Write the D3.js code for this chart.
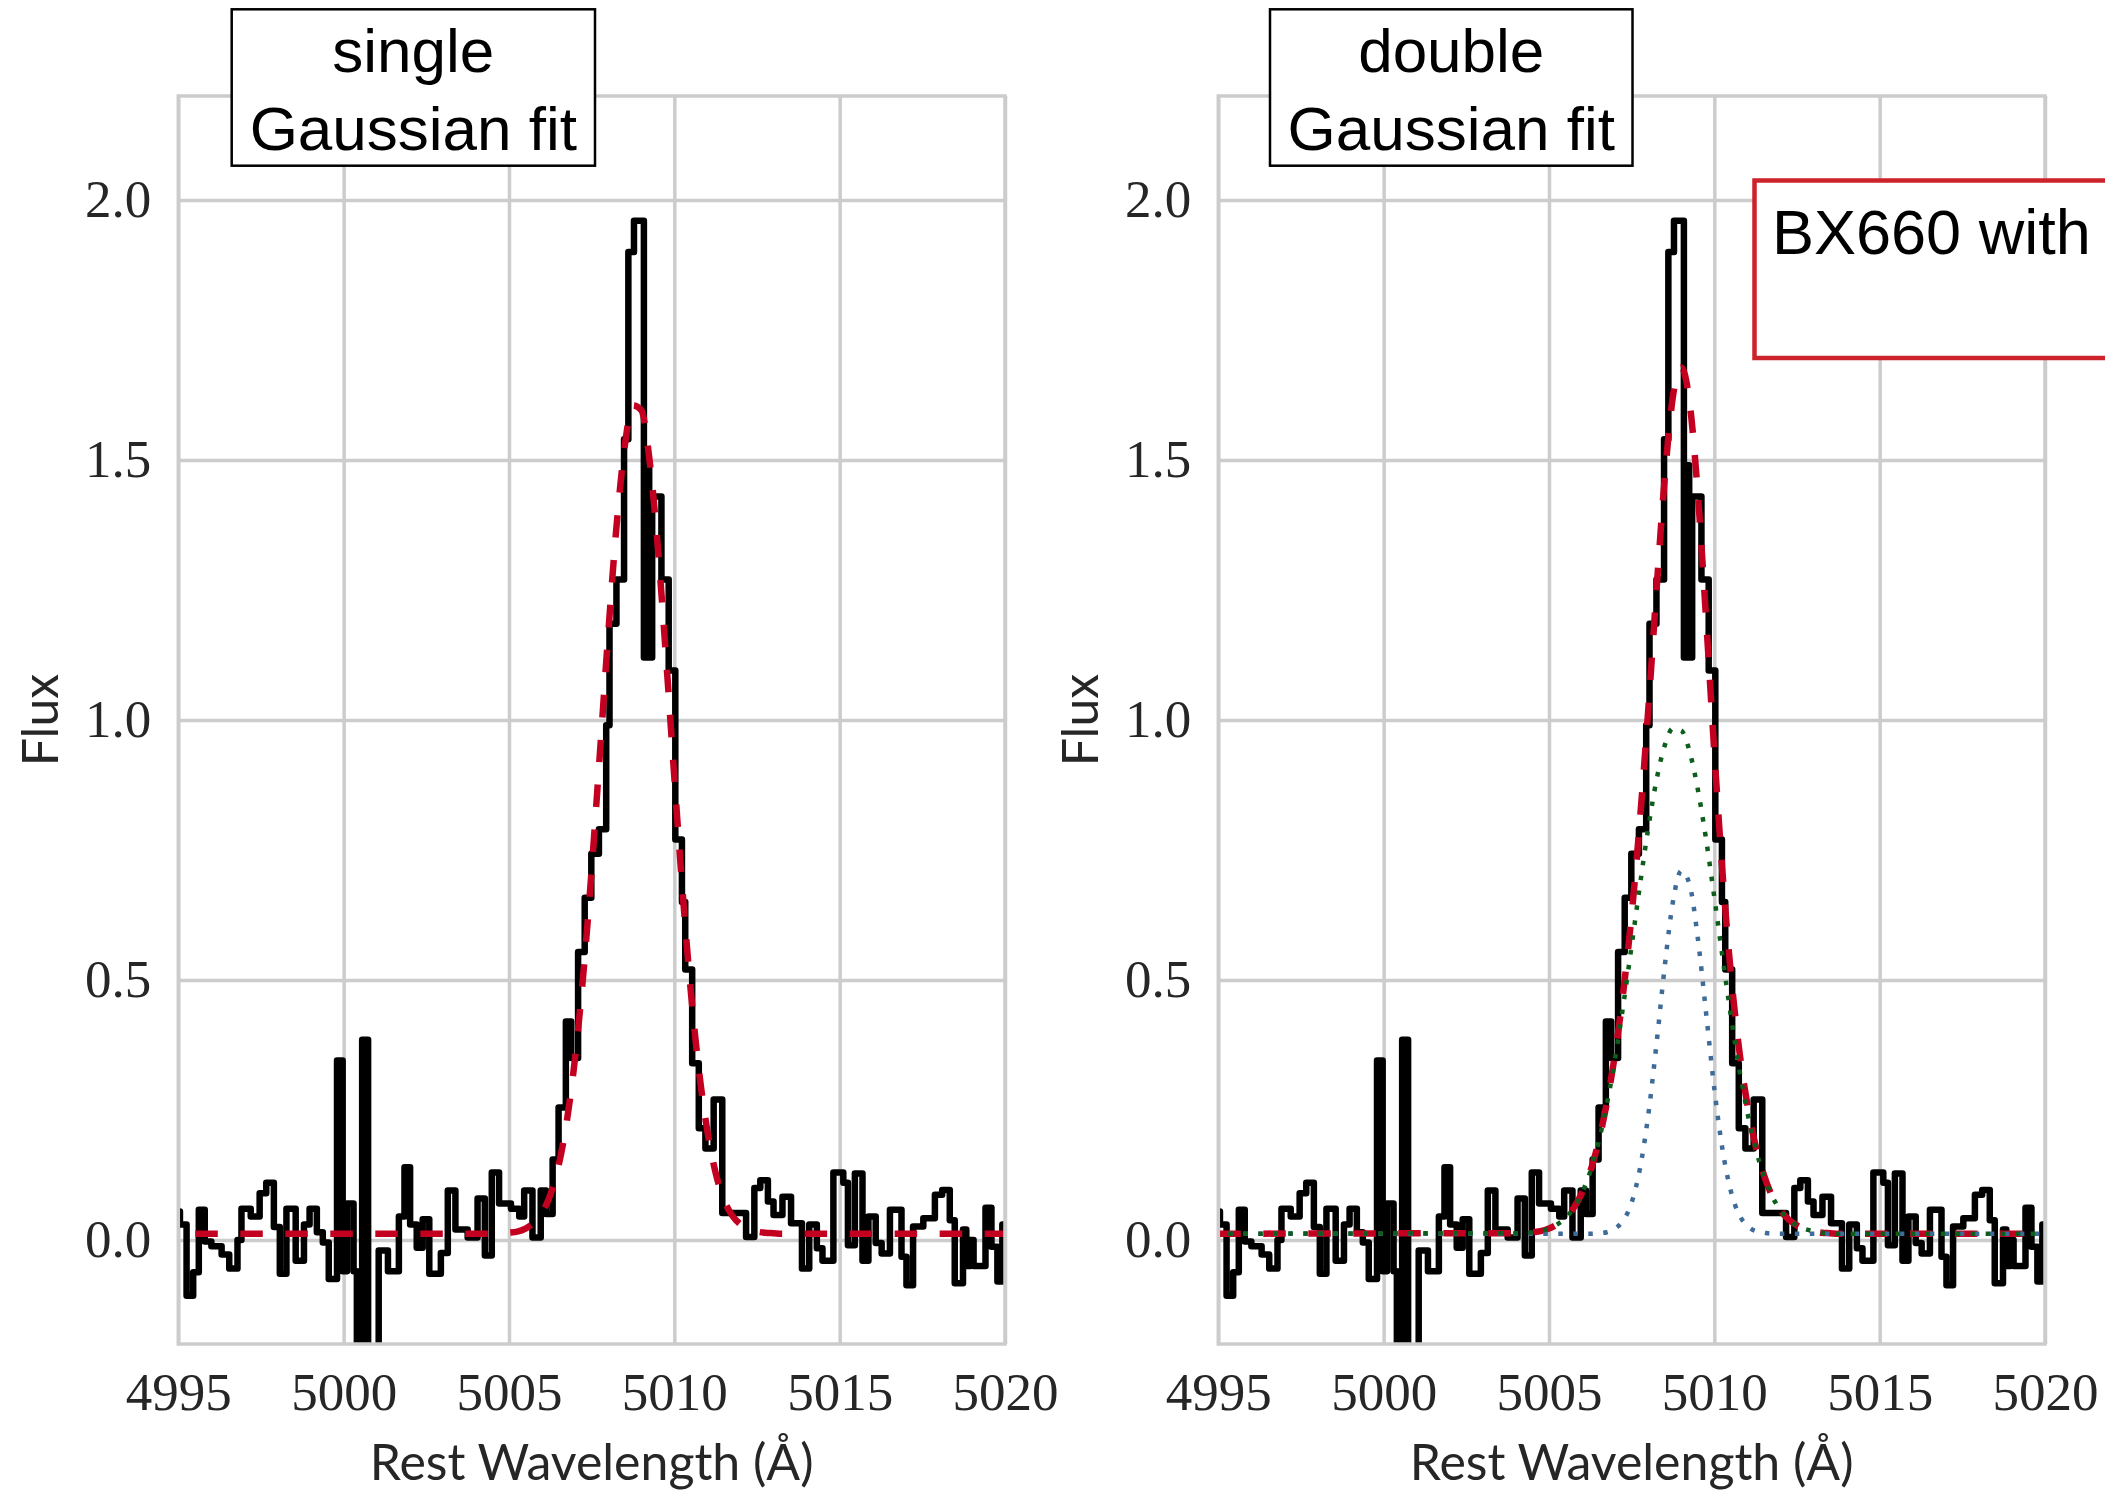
<!DOCTYPE html>
<html>
<head>
<meta charset="utf-8">
<script src="https://cdn.jsdelivr.net/npm/d3@7"></script>
<style>
  html, body { margin: 0; padding: 0; background: #ffffff; }
  svg { display: block; }
</style>
</head>
<body>
<svg id="fig" width="2105" height="1494"></svg>
<script>
// ---------------------------------------------------------------
// Observed [OIII] 5007 profile: left edge of each pixel (Å) and flux
// ---------------------------------------------------------------
const wave = [
  4994.90, 4995.05, 4995.25, 4995.45, 4995.62, 4995.80, 4996.00, 4996.31, 4996.54, 4996.79,
  4996.91, 4997.19, 4997.46, 4997.66, 4997.89, 4998.07, 4998.27, 4998.55, 4998.80, 4998.97,
  4999.19, 4999.37, 4999.55, 4999.80, 4999.97, 5000.10, 5000.30, 5000.40, 5000.56, 5000.74,
  5001.06, 5001.34, 5001.67, 5001.84, 5002.01, 5002.21, 5002.39, 5002.59, 5002.94, 5003.15,
  5003.38, 5003.75, 5004.05, 5004.27, 5004.48, 5004.70, 5005.06, 5005.31, 5005.46, 5005.71,
  5005.96, 5006.12, 5006.32, 5006.50, 5006.72, 5006.88, 5007.09, 5007.29, 5007.49, 5007.72,
  5007.94, 5008.04, 5008.25, 5008.48, 5008.61, 5008.78, 5009.08, 5009.16, 5009.24, 5009.33,
  5009.61, 5009.83, 5010.03, 5010.23, 5010.33, 5010.54, 5010.74, 5010.94, 5011.19, 5011.45,
  5012.17, 5012.42, 5012.60, 5012.83, 5013.00, 5013.27, 5013.53, 5013.86, 5014.08, 5014.31,
  5014.48, 5014.81, 5015.11, 5015.25, 5015.46, 5015.69, 5015.87, 5016.09, 5016.27, 5016.52,
  5016.87, 5017.02, 5017.22, 5017.53, 5017.88, 5018.10, 5018.33, 5018.48, 5018.73, 5018.83,
  5018.95, 5019.05, 5019.41, 5019.59, 5019.77, 5019.92
];
const flux = [
  0.055, 0.030, -0.107, -0.062, 0.058, -0.003, -0.012, -0.028, -0.055, 0.000,
  0.060, 0.045, 0.090, 0.110, 0.025, -0.065, 0.060, -0.040, 0.030, 0.060,
  0.015, -0.005, -0.075, 0.345, -0.060, 0.070, -0.060, -0.280, 0.385, -0.280,
  -0.020, -0.060, 0.045, 0.140, 0.030, -0.015, 0.040, -0.065, -0.025, 0.095,
  0.020, 0.005, 0.080, -0.030, 0.130, 0.070, 0.060, 0.045, 0.095, 0.005,
  0.095, 0.050, 0.155, 0.255, 0.420, 0.350, 0.554, 0.658, 0.743, 0.790,
  0.990, 1.185, 1.270, 1.540, 1.900, 1.960, 1.120, 1.490, 1.120, 1.430,
  1.270, 1.095, 0.770, 0.650, 0.520, 0.340, 0.215, 0.176, 0.270, 0.052,
  0.006, 0.100, 0.115, 0.074, 0.048, 0.083, 0.032, -0.055, 0.030, -0.016,
  -0.040, 0.130, 0.110, -0.010, 0.128, -0.040, 0.045, -0.006, -0.026, 0.058,
  -0.032, -0.087, 0.026, 0.042, 0.087, 0.096, 0.038, -0.083, 0.020, -0.050,
  0.000, -0.050, 0.062, -0.013, -0.080, 0.030
];
const specEnd = 5020.10;

// ---------------------------------------------------------------
// Fitted models, sampled on a common wavelength grid (Å)
// ---------------------------------------------------------------
const fitWave = [
  4995.00,
  5004.00, 5004.25, 5004.50, 5004.75, 5005.00, 5005.25, 5005.50, 5005.75, 5006.00, 5006.25,
  5006.50, 5006.75, 5007.00, 5007.25, 5007.50, 5007.75, 5008.00, 5008.25, 5008.50, 5008.75,
  5009.00, 5009.25, 5009.50, 5009.75, 5010.00, 5010.25, 5010.50, 5010.75, 5011.00, 5011.25,
  5011.50, 5011.75, 5012.00, 5012.25, 5012.50, 5012.75, 5013.00, 5013.25, 5013.50, 5013.75,
  5014.00,
  5020.00
];
// single Gaussian + continuum
const singleFit = [
  0.012,
  0.012, 0.012, 0.012, 0.013, 0.014, 0.016, 0.022, 0.033, 0.052, 0.087,
  0.143, 0.229, 0.351, 0.513, 0.712, 0.936, 1.165, 1.371, 1.526, 1.605,
  1.596, 1.500, 1.333, 1.120, 0.890, 0.670, 0.477, 0.323, 0.209, 0.129,
  0.078, 0.047, 0.030, 0.020, 0.016, 0.014, 0.013, 0.012, 0.012, 0.012,
  0.012,
  0.012
];
// double Gaussian: total model
const doubleFit = [
  0.012,
  0.013, 0.013, 0.015, 0.017, 0.022, 0.030, 0.042, 0.062, 0.091, 0.132,
  0.189, 0.264, 0.359, 0.479, 0.626, 0.807, 1.018, 1.248, 1.465, 1.623,
  1.678, 1.612, 1.436, 1.196, 0.938, 0.704, 0.513, 0.367, 0.260, 0.181,
  0.125, 0.084, 0.057, 0.039, 0.028, 0.021, 0.017, 0.014, 0.013, 0.012,
  0.012,
  0.012
];
// double Gaussian: broad component
const broadComp = [
  0.012,
  0.013, 0.013, 0.015, 0.017, 0.022, 0.030, 0.042, 0.062, 0.091, 0.132,
  0.188, 0.261, 0.349, 0.453, 0.566, 0.682, 0.791, 0.884, 0.951, 0.984,
  0.980, 0.940, 0.867, 0.771, 0.659, 0.543, 0.431, 0.330, 0.245, 0.176,
  0.123, 0.084, 0.057, 0.039, 0.028, 0.021, 0.017, 0.014, 0.013, 0.012,
  0.012,
  0.012
];
// double Gaussian: narrow component
const narrowComp = [
  0.012,
  0.012, 0.012, 0.012, 0.012, 0.012, 0.012, 0.012, 0.012, 0.012, 0.012,
  0.013, 0.015, 0.022, 0.038, 0.072, 0.137, 0.239, 0.376, 0.526, 0.651,
  0.710, 0.684, 0.581, 0.437, 0.291, 0.173, 0.094, 0.049, 0.027, 0.017,
  0.014, 0.012, 0.012, 0.012, 0.012, 0.012, 0.012, 0.012, 0.012, 0.012,
  0.012,
  0.012
];

// ---------------------------------------------------------------
// Axis ticks and labels
// ---------------------------------------------------------------
const xDomain = [4995, 5020];
const yDomain = [-0.2, 2.2];
const xTicks = [4995, 5000, 5005, 5010, 5015, 5020];
const yTicks = [0.0, 0.5, 1.0, 1.5, 2.0];
const xLabel = "Rest Wavelength (Å)";
const yLabel = "Flux";
const panelTitles = [["single", "Gaussian fit"], ["double", "Gaussian fit"]];
const legendText = "BX660 with";

// ---------------------------------------------------------------
// Layout and styles
// ---------------------------------------------------------------
const plotTop = 96, plotBottom = 1344;
const panels = [
  { left: 178.3, right: 1005.0, box: [231.7, 9.3, 363.3, 156.4], kind: "single" },
  { left: 1218.3, right: 2045.0, box: [1270.0, 9.3, 362.5, 156.4], kind: "double" }
];
const GRID = "#cccccc";
const TEXT = "#262626";
const RED = "#c40021";
const GREEN = "#0d5e1b";
const BLUE = "#3f6b99";

const svg = d3.select("#fig");
svg.append("rect").attr("width", 2105).attr("height", 1494).attr("fill", "#ffffff");

const y = d3.scaleLinear().domain(yDomain).range([plotBottom, plotTop]);

panels.forEach((p, i) => {
  const x = d3.scaleLinear().domain(xDomain).range([p.left, p.right]);
  const w = p.right - p.left, h = plotBottom - plotTop;
  const g = svg.append("g").attr("class", "panel-" + p.kind);

  const clipId = "clip-" + i;
  svg.append("defs").append("clipPath").attr("id", clipId)
    .append("rect").attr("x", p.left).attr("y", plotTop).attr("width", w).attr("height", h);

  // grid + x tick labels
  const gx = g.append("g").attr("transform", `translate(0,${plotBottom})`)
    .call(d3.axisBottom(x).tickValues(xTicks).tickSize(-h).tickPadding(28)
      .tickFormat(d3.format("d")));
  gx.select(".domain").remove();
  gx.selectAll(".tick line").attr("stroke", GRID).attr("stroke-width", 3.5);
  gx.selectAll(".tick text").attr("font-family", "'Liberation Serif', 'DejaVu Serif', serif")
    .attr("font-size", 53).attr("fill", TEXT);

  // grid + y tick labels
  const gy = g.append("g").attr("transform", `translate(${p.left},0)`)
    .call(d3.axisLeft(y).tickValues(yTicks).tickSize(-w).tickPadding(27)
      .tickFormat(d3.format(".1f")));
  gy.select(".domain").remove();
  gy.selectAll(".tick line").attr("stroke", GRID).attr("stroke-width", 3.5);
  gy.selectAll(".tick text").attr("font-family", "'Liberation Serif', 'DejaVu Serif', serif")
    .attr("font-size", 53).attr("fill", TEXT);

  // data layer
  const dl = g.append("g").attr("clip-path", `url(#${clipId})`);

  const specPts = wave.map((wv, k) => [wv, flux[k]]);
  specPts.push([specEnd, flux[flux.length - 1]]);
  const stepLine = d3.line().x(d => x(d[0])).y(d => y(d[1])).curve(d3.curveStepAfter);
  dl.append("path").datum(specPts).attr("d", stepLine)
    .attr("fill", "none").attr("stroke", "#000000").attr("stroke-width", 6.5)
    .attr("stroke-linejoin", "round").attr("stroke-linecap", "round");

  const smooth = d3.line().x(d => x(d[0])).y(d => y(d[1])).curve(d3.curveMonotoneX);
  const series = vals => fitWave.map((wv, k) => [wv, vals[k]]);

  if (p.kind === "single") {
    dl.append("path").datum(series(singleFit)).attr("d", smooth)
      .attr("fill", "none").attr("stroke", RED).attr("stroke-width", 6.5)
      .attr("stroke-dasharray", "22.5,22.5").attr("stroke-dashoffset", 28);
  } else {
    dl.append("path").datum(series(doubleFit)).attr("d", smooth)
      .attr("fill", "none").attr("stroke", RED).attr("stroke-width", 6.5)
      .attr("stroke-dasharray", "22.5,22.5");
    dl.append("path").datum(series(narrowComp)).attr("d", smooth)
      .attr("fill", "none").attr("stroke", BLUE).attr("stroke-width", 4.5)
      .attr("stroke-dasharray", "4.5,10.5").attr("stroke-dashoffset", 5);
    dl.append("path").datum(series(broadComp)).attr("d", smooth)
      .attr("fill", "none").attr("stroke", GREEN).attr("stroke-width", 4.5)
      .attr("stroke-dasharray", "4.5,10.5").attr("stroke-dashoffset", 5);
  }

  // spines
  g.append("rect").attr("x", p.left).attr("y", plotTop).attr("width", w).attr("height", h)
    .attr("fill", "none").attr("stroke", GRID).attr("stroke-width", 3.5);

  // axis titles
  g.append("text").attr("x", (p.left + p.right) / 2).attr("y", 1480)
    .attr("text-anchor", "middle").attr("font-family", "Lato, 'DejaVu Sans', sans-serif")
    .attr("font-size", 50).attr("fill", TEXT).text(xLabel);
  g.append("text")
    .attr("transform", `translate(${p.left - 120},${(plotTop + plotBottom) / 2}) rotate(-90)`)
    .attr("text-anchor", "middle").attr("font-family", "Lato, 'DejaVu Sans', sans-serif")
    .attr("font-size", 50).attr("fill", TEXT).text(yLabel);

  // title box
  const [bx, by, bw, bh] = p.box;
  g.append("rect").attr("x", bx).attr("y", by).attr("width", bw).attr("height", bh)
    .attr("fill", "#ffffff").attr("stroke", "#000000").attr("stroke-width", 2.5);
  const t = panelTitles[i];
  [t[0], t[1]].forEach((line, k) => {
    g.append("text").attr("x", bx + bw / 2).attr("y", k === 0 ? 72 : 150)
      .attr("text-anchor", "middle").attr("font-family", "'Liberation Sans', Arial, sans-serif")
      .attr("font-size", 62).attr("fill", "#000000").text(line);
  });
});

// legend box (extends past the right edge of the figure)
svg.append("rect").attr("x", 1754.5).attr("y", 180.5).attr("width", 600).attr("height", 177.5)
  .attr("fill", "#ffffff").attr("stroke", "#cc2229").attr("stroke-width", 4.5);
svg.append("text").attr("x", 1772).attr("y", 254)
  .attr("font-family", "'Liberation Sans', Arial, sans-serif").attr("font-size", 63)
  .attr("fill", "#000000").text(legendText);
</script>
</body>
</html>
